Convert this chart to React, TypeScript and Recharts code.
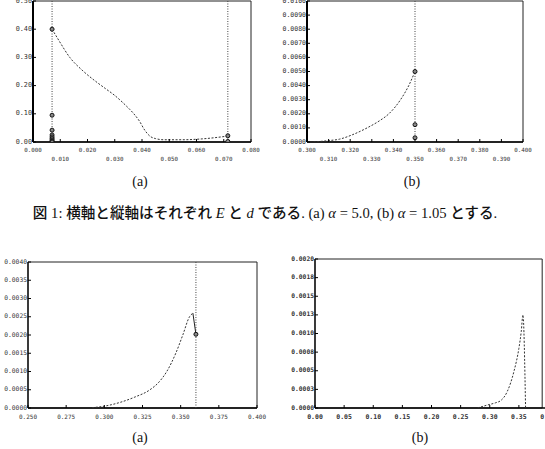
import { ComposedChart, Line, Scatter, XAxis, YAxis, ReferenceLine, ReferenceArea } from "recharts";

// figure 1 (a): alpha = 5.0
const fig1aXTicks = [0, 0.01, 0.02, 0.03, 0.04, 0.05, 0.06, 0.07, 0.08];
const fig1aYTicks = [0, 0.1, 0.2, 0.3, 0.4, 0.5];
const fig1aCurve: [number, number][] = [
  [0.007, 0.4], [0.0095, 0.36], [0.0135, 0.3], [0.018, 0.255], [0.023, 0.215],
  [0.0265, 0.19], [0.03, 0.165], [0.034, 0.13], [0.037, 0.1], [0.039, 0.075],
  [0.041, 0.042], [0.043, 0.02], [0.045, 0.012], [0.048, 0.008], [0.055, 0.008],
  [0.062, 0.011], [0.0715, 0.021],
];
const fig1aMarks: [number, number][] = [
  [0.007, 0.4], [0.007, 0.095], [0.007, 0.042], [0.007, 0.025], [0.007, 0.018],
  [0.007, 0.012], [0.007, 0.007], [0.007, 0.003], [0.007, 0], [0.0715, 0.022], [0.0715, 0.002],
];
const fig1aLines = [0.007, 0.0715];

// figure 1 (b): alpha = 1.05
const fig1bXTicks = [0.3, 0.31, 0.32, 0.33, 0.34, 0.35, 0.36, 0.37, 0.38, 0.39, 0.4];
const fig1bYTicks = [0, 0.001, 0.002, 0.003, 0.004, 0.005, 0.006, 0.007, 0.008, 0.009, 0.01];
const fig1bCurve: [number, number][] = [
  [0.303, 0], [0.31, 0.0001], [0.315, 0.0002], [0.3208, 0.0005], [0.3278, 0.001],
  [0.3335, 0.0015], [0.3379, 0.002], [0.3433, 0.003], [0.3471, 0.004], [0.35, 0.005],
];
const fig1bMarks: [number, number][] = [[0.35, 0.005], [0.35, 0.00123], [0.35, 0.0003]];
const fig1bLines = [0.35];

// figure 2 (a)
const fig2aXTicks = [0.25, 0.275, 0.3, 0.325, 0.35, 0.375, 0.4];
const fig2aYTicks = [0, 0.0005, 0.001, 0.0015, 0.002, 0.0025, 0.003, 0.0035, 0.004];
const fig2aCurve: [number, number][] = [
  [0.292, 0.00001], [0.3, 0.00005], [0.31, 0.00015], [0.32, 0.0003], [0.3299, 0.0005],
  [0.336, 0.00072], [0.3409, 0.001], [0.3468, 0.0015], [0.3514, 0.002], [0.3558, 0.0025],
  [0.358, 0.0026],
];
const fig2aDrop: [number, number][] = [[0.358, 0.0026], [0.36, 0.00202]];
const fig2aMarks: [number, number][] = [[0.36, 0.00202]];
const fig2aLines = [0.36];

// figure 2 (b)
const fig2bXTicks = [0, 0.05, 0.1, 0.15, 0.2, 0.25, 0.3, 0.35, 0.4];
const fig2bYTicks = [0, 0.00025, 0.0005, 0.00075, 0.001, 0.00125, 0.0015, 0.00175, 0.002];
const fig2bYLabels = ["0.0000", "0.0003", "0.0005", "0.0008", "0.0010", "0.0013", "0.0015", "0.0018", "0.0020"];
const fig2bCurve: [number, number][] = [
  [0.279, 0], [0.296, 0.00004], [0.31, 0.00007], [0.319, 0.0001], [0.33, 0.00022],
  [0.3415, 0.00049], [0.35, 0.0008], [0.354, 0.00102], [0.357, 0.00125], [0.3615, 0],
];

const mono = "DejaVu Sans Mono";
const serif = "Liberation Serif";

const toPts = (arr: [number, number][]) => arr.map(([x, y]) => ({ x, y }));

interface PanelProps {
  left: number; top: number; w: number; h: number;
  xDomain: [number, number]; yDomain: [number, number]; frameX?: number;
  xTicks: number[]; yTicks: number[];
  xFmt: (v: number) => string; yFmt: (v: number, i: number) => string;
  stagger?: boolean; xFs: number; yFs: number; bold?: boolean; xDy: number;
  curve: [number, number][]; solid?: [number, number][];
  marks?: [number, number][]; vlines?: number[]; axisW?: number;
}

function Panel(p: PanelProps) {
  const L = 40, T = 6, R = 16, B = 26;
  const W = L + p.w + R, H = T + p.h + B;
  const fw = p.bold ? 700 : 400;
  const right = p.frameX ?? p.xDomain[1];
  const xTick = (t: any) => {
    const dy = p.stagger && t.index % 2 === 1 ? p.xDy + 9 : p.xDy;
    return (
      <g>
        <line x1={t.x} x2={t.x} y1={t.y} y2={t.y - 3} stroke="#000" />
        <text x={t.x} y={t.y + dy} textAnchor="middle" fontSize={p.xFs} fontFamily={mono} fontWeight={fw} fill="#333">
          {p.xFmt(t.payload.value)}
        </text>
      </g>
    );
  };
  const yTick = (t: any) => (
    <g>
      <line x1={t.x} x2={t.x + 3} y1={t.y} y2={t.y} stroke="#000" />
      <text x={t.x - 1} y={t.y + 1.5} textAnchor="end" fontSize={p.yFs} fontFamily={mono} fontWeight={fw} fill="#333">
        {p.yFmt(t.payload.value, t.index)}
      </text>
    </g>
  );
  return (
    <div style={{ position: "absolute", left: p.left - L, top: p.top - T }}>
      <ComposedChart width={W} height={H} margin={{ top: T, right: R, left: 0, bottom: 0 }}>
        <XAxis type="number" dataKey="x" domain={p.xDomain} ticks={p.xTicks} interval={0}
          allowDataOverflow tickSize={0} tickMargin={0} tickLine={false} height={B}
          axisLine={false} tick={xTick} />
        <YAxis type="number" dataKey="y" domain={p.yDomain} ticks={p.yTicks} interval={0}
          allowDataOverflow tickSize={0} tickMargin={0} tickLine={false} width={L}
          axisLine={{ stroke: "#000", strokeWidth: p.axisW ?? 1.2 }} tick={yTick} />
        <ReferenceArea x1={p.xDomain[0]} x2={right} y1={p.yDomain[0]} y2={p.yDomain[1]}
          fill="none" stroke="#222" strokeWidth={1} ifOverflow="visible" />
        <ReferenceLine y={p.yDomain[0]} segment={[{ x: p.xDomain[0], y: p.yDomain[0] }, { x: right, y: p.yDomain[0] }]}
          stroke="#000" strokeWidth={1.4} ifOverflow="visible" />
        {(p.vlines ?? []).map((v) => (
          <ReferenceLine key={v} x={v} stroke="#444" strokeDasharray="1 1.5" />
        ))}
        <Line data={toPts(p.curve)} dataKey="y" type="monotone" stroke="#333" strokeWidth={1}
          strokeDasharray="2 1.6" dot={false} isAnimationActive={false} />
        {p.solid && (
          <Line data={toPts(p.solid)} dataKey="y" type="linear" stroke="#222" strokeWidth={1}
            dot={false} isAnimationActive={false} />
        )}
        {p.marks && (
          <Scatter data={toPts(p.marks)} isAnimationActive={false}
            shape={(s: any) => (
              <circle cx={s.cx} cy={s.cy} r={2} fill="#888" stroke="#111" strokeWidth={1} />
            )} />
        )}
      </ComposedChart>
    </div>
  );
}

const sub = (label: string, x: number, y: number) => (
  <div style={{ position: "absolute", left: x - 20, top: y - 9, width: 40, textAlign: "center",
    fontFamily: serif, fontSize: 14, lineHeight: "18px", color: "#111" }}>{label}</div>
);

export default function App() {
  const jp = { fontFamily: "'Noto Sans CJK JP'", fontWeight: 500 } as const;
  const it = { fontStyle: "italic" } as const;
  return (
    <div style={{ position: "absolute", left: 0, top: 0, width: 545, height: 449, overflow: "hidden", background: "#fff" }}>
      <Panel left={33} top={1} w={218} h={141} xDomain={[0, 0.08]} yDomain={[0, 0.5]}
        xTicks={fig1aXTicks} yTicks={fig1aYTicks} xFmt={(v) => v.toFixed(3)} yFmt={(v) => v.toFixed(2)}
        stagger xFs={5.8} yFs={6.8} xDy={10} curve={fig1aCurve} marks={fig1aMarks} vlines={fig1aLines} axisW={2} />
      <Panel left={307} top={1} w={216} h={141} xDomain={[0.3, 0.4]} yDomain={[0, 0.01]}
        xTicks={fig1bXTicks} yTicks={fig1bYTicks} xFmt={(v) => v.toFixed(3)} yFmt={(v) => v.toFixed(4)}
        stagger xFs={5.8} yFs={6.5} xDy={10} curve={fig1bCurve} marks={fig1bMarks} vlines={fig1bLines} axisW={2} />
      {sub("(a)", 140, 182)}
      {sub("(b)", 412, 182)}
      <div style={{ position: "absolute", left: 0, top: 202, width: 530, textAlign: "center",
        fontFamily: serif, fontSize: 14.6, lineHeight: "20px", color: "#111", whiteSpace: "nowrap" }}>
        <span style={jp}>図</span> 1: <span style={jp}>横軸と縦軸はそれぞれ</span> <span style={it}>E</span>{" "}
        <span style={jp}>と</span> <span style={it}>d</span> <span style={jp}>である</span>.{"  "}
        (a) <span style={it}>α</span> = 5.0, (b) <span style={it}>α</span> = 1.05 <span style={jp}>とする</span>.
      </div>
      <Panel left={28} top={262} w={229} h={146} xDomain={[0.25, 0.4]} yDomain={[0, 0.004]}
        xTicks={fig2aXTicks} yTicks={fig2aYTicks} xFmt={(v) => v.toFixed(3)} yFmt={(v) => v.toFixed(4)}
        xFs={6} yFs={6.3} xDy={11} curve={fig2aCurve} solid={fig2aDrop} marks={fig2aMarks} vlines={fig2aLines} />
      <Panel left={315} top={259} w={233} h={149} xDomain={[0, 0.4]} yDomain={[0, 0.002]} frameX={0.39}
        xTicks={fig2bXTicks} yTicks={fig2bYTicks} xFmt={(v) => v.toFixed(2)} yFmt={(_v, i) => fig2bYLabels[i]}
        bold xFs={6.5} yFs={6.3} xDy={11} curve={fig2bCurve} />
      {sub("(a)", 140, 438)}
      {sub("(b)", 420, 438)}
    </div>
  );
}
